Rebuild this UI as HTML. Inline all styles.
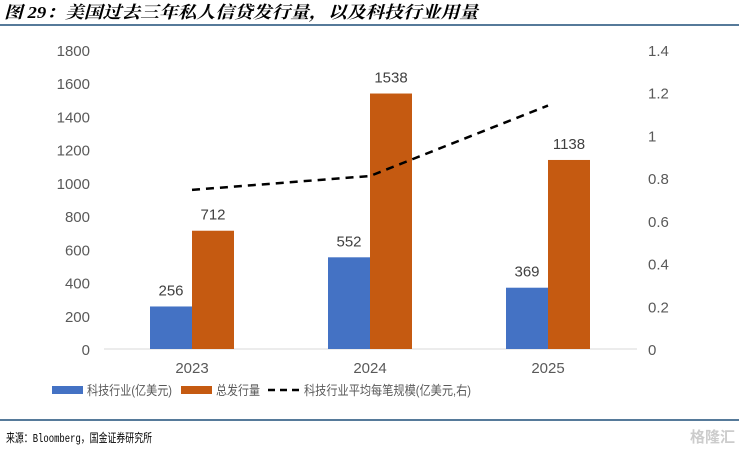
<!DOCTYPE html>
<html><head><meta charset="utf-8"><style>
body{margin:0;background:#fff;width:739px;height:454px;overflow:hidden}
svg{display:block;font-family:"Liberation Sans","Noto Sans CJK SC",sans-serif}
</style></head><body>
<svg id="c" width="739" height="454">
<text x="4" y="18" font-size="17" font-weight="bold" font-style="italic" fill="#000" textLength="474" lengthAdjust="spacingAndGlyphs" font-family="'Liberation Serif','Noto Serif CJK SC',serif">图 29：美国过去三年私人信贷发行量，以及科技行业用量</text>
<line x1="0" y1="25" x2="739" y2="25" stroke="#1f4e79" stroke-width="1.5"/>
<line x1="0" y1="420" x2="739" y2="420" stroke="#1f4e79" stroke-width="1.5"/>
<text x="6" y="442" font-size="12" fill="#000" textLength="146" lengthAdjust="spacingAndGlyphs" font-family="'Liberation Mono','Noto Sans CJK SC',monospace">来源：Bloomberg，国金证券研究所</text>
<text x="735" y="442" font-size="15" fill="#ccc" text-anchor="end" font-weight="bold">格隆汇</text>
<g id="plot"></g>
<g>
<rect x="52" y="386" width="31" height="8" fill="#4472c4"/>
<text x="87" y="395" font-size="13" fill="#595959" textLength="85" lengthAdjust="spacingAndGlyphs">科技行业(亿美元)</text>
<rect x="181" y="386" width="31" height="8" fill="#c55a11"/>
<text x="216" y="395" font-size="13" fill="#595959" textLength="44" lengthAdjust="spacingAndGlyphs">总发行量</text>
<line x1="268" y1="390" x2="302" y2="390" stroke="#000" stroke-width="2.5" stroke-dasharray="7,5"/>
<text x="304" y="395" font-size="13" fill="#595959" textLength="167" lengthAdjust="spacingAndGlyphs">科技行业平均每笔规模(亿美元,右)</text>
</g>
</svg>
<script>
const categories=["2023","2024","2025"];
const techValues=[256,552,369];
const totalValues=[712,1538,1138];
const avgValues=[0.745,0.81,1.14];
const leftTicks=[0,200,400,600,800,1000,1200,1400,1600,1800];
const rightTicks=[0,0.2,0.4,0.6,0.8,1,1.2,1.4];
const NS="http://www.w3.org/2000/svg";
const g=document.getElementById("plot");
const y0=349,yTop=50;
const yL=v=>y0-(v/1800)*(y0-yTop);
const yR=v=>y0-(v/1.4)*(y0-yTop);
const xC=i=>192+i*178;
function mk(t,a){const e=document.createElementNS(NS,t);for(const k in a)e.setAttribute(k,a[k]);g.appendChild(e);return e;}
const ax=mk("line",{x1:104,y1:y0,x2:637,y2:y0,stroke:"#d9d9d9"});


leftTicks.forEach(v=>{const t=mk("text",{x:90,y:yL(v)+6,"font-size":15,fill:"#595959","text-anchor":"end"});t.textContent=v;

});
rightTicks.forEach(v=>{const t=mk("text",{x:648,y:yR(v)+6,"font-size":15,fill:"#595959"});t.textContent=v;

});
categories.forEach((c,i)=>{
const t=mk("text",{x:xC(i),y:y0+24,"font-size":15,fill:"#595959","text-anchor":"middle"});t.textContent=c;


const b1=mk("rect",{x:xC(i)-42,y:yL(techValues[i]),width:42,height:y0-yL(techValues[i]),fill:"#4472c4"});


const b2=mk("rect",{x:xC(i),y:yL(totalValues[i]),width:42,height:y0-yL(totalValues[i]),fill:"#c55a11"});


const l1=mk("text",{x:xC(i)-21,y:yL(techValues[i])-11,"font-size":15,fill:"#404040","text-anchor":"middle"});l1.textContent=techValues[i];


const l2=mk("text",{x:xC(i)+21,y:yL(totalValues[i])-11,"font-size":15,fill:"#404040","text-anchor":"middle"});l2.textContent=totalValues[i];


});
const pts=avgValues.map((v,i)=>xC(i)+","+yR(v));
const pl=mk("polyline",{points:pts.join(" "),fill:"none",stroke:"#000","stroke-width":2.5,"stroke-dasharray":"8,6"});


</script>
</body></html>
